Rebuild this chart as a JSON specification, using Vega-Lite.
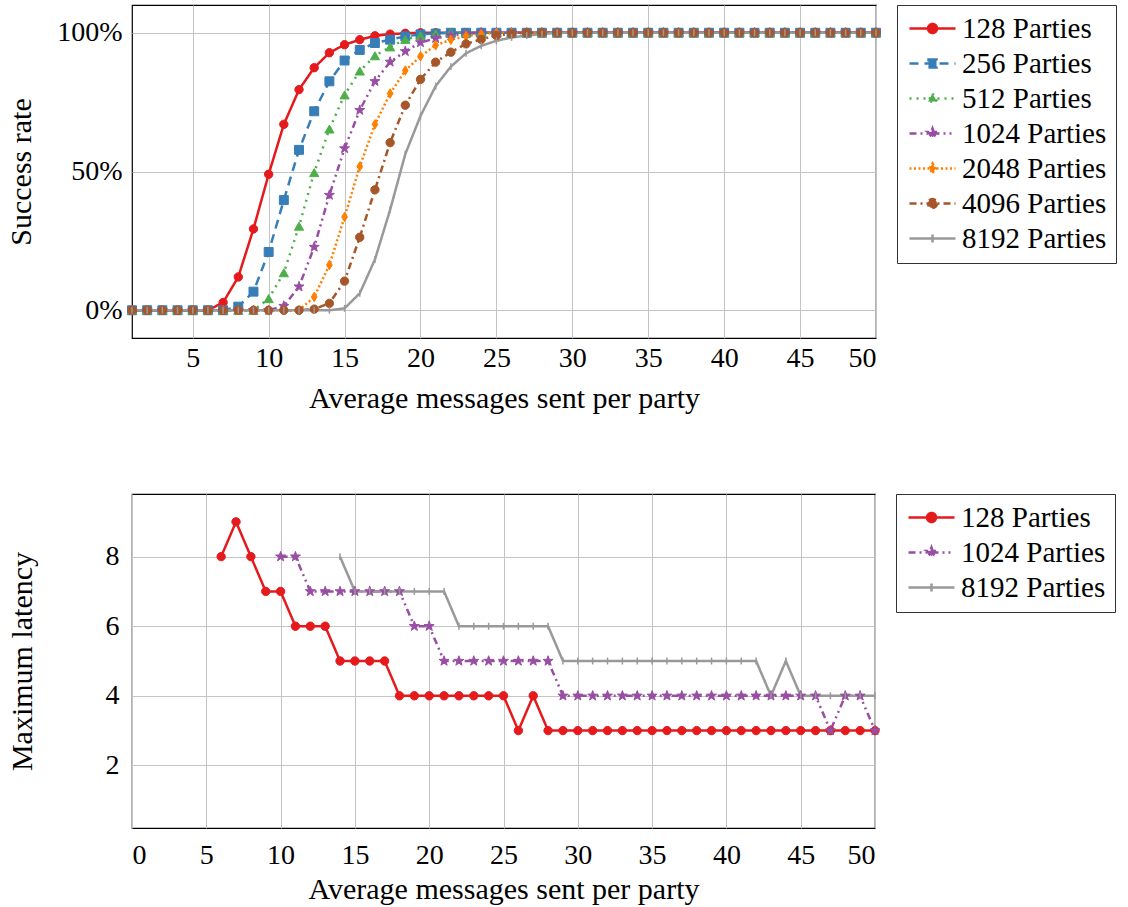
{"$schema":"https://vega.github.io/schema/vega-lite/v6.json","background":"white","padding":{"left":6,"top":3,"right":0,"bottom":0},
"config":{"view":{"stroke":"#000","strokeWidth":1.2},"axis":{"labelFont":"Liberation Serif","titleFont":"Liberation Serif","labelFontSize":28,"labelColor":"#000","titleFontSize":30,"titleFontWeight":"normal","titleColor":"#000","domain":false,"ticks":false,"grid":true,"gridColor":"#c4c4c4","gridWidth":1,"gridOpacity":1},
"legend":{"labelFont":"Liberation Serif","labelFontSize":29,"labelColor":"#000","labelBaseline":"middle","strokeColor":"#333","strokeWidth":1,"padding":9,"offset":16,"symbolSize":400,"symbolStrokeWidth":2.5,"symbolOffset":12,"labelOffset":15,"rowPadding":5,"cornerRadius":0,"title":null}},
"datasets":{"top":[
{"s":"128","x":1,"y":0},{"s":"128","x":2,"y":0},{"s":"128","x":3,"y":0},{"s":"128","x":4,"y":0},{"s":"128","x":5,"y":0},{"s":"128","x":6,"y":0},{"s":"128","x":7,"y":0.028},{"s":"128","x":8,"y":0.12},{"s":"128","x":9,"y":0.293},{"s":"128","x":10,"y":0.49},{"s":"128","x":11,"y":0.67},{"s":"128","x":12,"y":0.795},{"s":"128","x":13,"y":0.874},{"s":"128","x":14,"y":0.928},{"s":"128","x":15,"y":0.957},{"s":"128","x":16,"y":0.975},{"s":"128","x":17,"y":0.989},{"s":"128","x":18,"y":0.995},{"s":"128","x":19,"y":0.998},{"s":"128","x":20,"y":1},{"s":"128","x":21,"y":1},{"s":"128","x":22,"y":1},{"s":"128","x":23,"y":1},{"s":"128","x":24,"y":1},{"s":"128","x":25,"y":1},{"s":"128","x":26,"y":1},{"s":"128","x":27,"y":1},{"s":"128","x":28,"y":1},{"s":"128","x":29,"y":1},{"s":"128","x":30,"y":1},{"s":"128","x":31,"y":1},{"s":"128","x":32,"y":1},{"s":"128","x":33,"y":1},{"s":"128","x":34,"y":1},{"s":"128","x":35,"y":1},{"s":"128","x":36,"y":1},{"s":"128","x":37,"y":1},{"s":"128","x":38,"y":1},{"s":"128","x":39,"y":1},{"s":"128","x":40,"y":1},{"s":"128","x":41,"y":1},{"s":"128","x":42,"y":1},{"s":"128","x":43,"y":1},{"s":"128","x":44,"y":1},{"s":"128","x":45,"y":1},{"s":"128","x":46,"y":1},{"s":"128","x":47,"y":1},{"s":"128","x":48,"y":1},{"s":"128","x":49,"y":1},{"s":"128","x":50,"y":1},
{"s":"256","x":1,"y":0},{"s":"256","x":2,"y":0},{"s":"256","x":3,"y":0},{"s":"256","x":4,"y":0},{"s":"256","x":5,"y":0},{"s":"256","x":6,"y":0},{"s":"256","x":7,"y":0},{"s":"256","x":8,"y":0.013},{"s":"256","x":9,"y":0.067},{"s":"256","x":10,"y":0.21},{"s":"256","x":11,"y":0.397},{"s":"256","x":12,"y":0.578},{"s":"256","x":13,"y":0.717},{"s":"256","x":14,"y":0.825},{"s":"256","x":15,"y":0.9},{"s":"256","x":16,"y":0.938},{"s":"256","x":17,"y":0.963},{"s":"256","x":18,"y":0.975},{"s":"256","x":19,"y":0.987},{"s":"256","x":20,"y":0.994},{"s":"256","x":21,"y":0.997},{"s":"256","x":22,"y":1},{"s":"256","x":23,"y":1},{"s":"256","x":24,"y":1},{"s":"256","x":25,"y":1},{"s":"256","x":26,"y":1},{"s":"256","x":27,"y":1},{"s":"256","x":28,"y":1},{"s":"256","x":29,"y":1},{"s":"256","x":30,"y":1},{"s":"256","x":31,"y":1},{"s":"256","x":32,"y":1},{"s":"256","x":33,"y":1},{"s":"256","x":34,"y":1},{"s":"256","x":35,"y":1},{"s":"256","x":36,"y":1},{"s":"256","x":37,"y":1},{"s":"256","x":38,"y":1},{"s":"256","x":39,"y":1},{"s":"256","x":40,"y":1},{"s":"256","x":41,"y":1},{"s":"256","x":42,"y":1},{"s":"256","x":43,"y":1},{"s":"256","x":44,"y":1},{"s":"256","x":45,"y":1},{"s":"256","x":46,"y":1},{"s":"256","x":47,"y":1},{"s":"256","x":48,"y":1},{"s":"256","x":49,"y":1},{"s":"256","x":50,"y":1},
{"s":"512","x":1,"y":0},{"s":"512","x":2,"y":0},{"s":"512","x":3,"y":0},{"s":"512","x":4,"y":0},{"s":"512","x":5,"y":0},{"s":"512","x":6,"y":0},{"s":"512","x":7,"y":0},{"s":"512","x":8,"y":0},{"s":"512","x":9,"y":0},{"s":"512","x":10,"y":0.042},{"s":"512","x":11,"y":0.135},{"s":"512","x":12,"y":0.303},{"s":"512","x":13,"y":0.496},{"s":"512","x":14,"y":0.653},{"s":"512","x":15,"y":0.776},{"s":"512","x":16,"y":0.862},{"s":"512","x":17,"y":0.917},{"s":"512","x":18,"y":0.949},{"s":"512","x":19,"y":0.976},{"s":"512","x":20,"y":0.989},{"s":"512","x":21,"y":0.996},{"s":"512","x":22,"y":1},{"s":"512","x":23,"y":1},{"s":"512","x":24,"y":1},{"s":"512","x":25,"y":1},{"s":"512","x":26,"y":1},{"s":"512","x":27,"y":1},{"s":"512","x":28,"y":1},{"s":"512","x":29,"y":1},{"s":"512","x":30,"y":1},{"s":"512","x":31,"y":1},{"s":"512","x":32,"y":1},{"s":"512","x":33,"y":1},{"s":"512","x":34,"y":1},{"s":"512","x":35,"y":1},{"s":"512","x":36,"y":1},{"s":"512","x":37,"y":1},{"s":"512","x":38,"y":1},{"s":"512","x":39,"y":1},{"s":"512","x":40,"y":1},{"s":"512","x":41,"y":1},{"s":"512","x":42,"y":1},{"s":"512","x":43,"y":1},{"s":"512","x":44,"y":1},{"s":"512","x":45,"y":1},{"s":"512","x":46,"y":1},{"s":"512","x":47,"y":1},{"s":"512","x":48,"y":1},{"s":"512","x":49,"y":1},{"s":"512","x":50,"y":1},
{"s":"1024","x":1,"y":0},{"s":"1024","x":2,"y":0},{"s":"1024","x":3,"y":0},{"s":"1024","x":4,"y":0},{"s":"1024","x":5,"y":0},{"s":"1024","x":6,"y":0},{"s":"1024","x":7,"y":0},{"s":"1024","x":8,"y":0},{"s":"1024","x":9,"y":0},{"s":"1024","x":10,"y":0},{"s":"1024","x":11,"y":0.015},{"s":"1024","x":12,"y":0.085},{"s":"1024","x":13,"y":0.228},{"s":"1024","x":14,"y":0.415},{"s":"1024","x":15,"y":0.583},{"s":"1024","x":16,"y":0.721},{"s":"1024","x":17,"y":0.825},{"s":"1024","x":18,"y":0.895},{"s":"1024","x":19,"y":0.933},{"s":"1024","x":20,"y":0.965},{"s":"1024","x":21,"y":0.98},{"s":"1024","x":22,"y":0.99},{"s":"1024","x":23,"y":0.996},{"s":"1024","x":24,"y":1},{"s":"1024","x":25,"y":1},{"s":"1024","x":26,"y":1},{"s":"1024","x":27,"y":1},{"s":"1024","x":28,"y":1},{"s":"1024","x":29,"y":1},{"s":"1024","x":30,"y":1},{"s":"1024","x":31,"y":1},{"s":"1024","x":32,"y":1},{"s":"1024","x":33,"y":1},{"s":"1024","x":34,"y":1},{"s":"1024","x":35,"y":1},{"s":"1024","x":36,"y":1},{"s":"1024","x":37,"y":1},{"s":"1024","x":38,"y":1},{"s":"1024","x":39,"y":1},{"s":"1024","x":40,"y":1},{"s":"1024","x":41,"y":1},{"s":"1024","x":42,"y":1},{"s":"1024","x":43,"y":1},{"s":"1024","x":44,"y":1},{"s":"1024","x":45,"y":1},{"s":"1024","x":46,"y":1},{"s":"1024","x":47,"y":1},{"s":"1024","x":48,"y":1},{"s":"1024","x":49,"y":1},{"s":"1024","x":50,"y":1},
{"s":"2048","x":1,"y":0},{"s":"2048","x":2,"y":0},{"s":"2048","x":3,"y":0},{"s":"2048","x":4,"y":0},{"s":"2048","x":5,"y":0},{"s":"2048","x":6,"y":0},{"s":"2048","x":7,"y":0},{"s":"2048","x":8,"y":0},{"s":"2048","x":9,"y":0},{"s":"2048","x":10,"y":0},{"s":"2048","x":11,"y":0},{"s":"2048","x":12,"y":0},{"s":"2048","x":13,"y":0.048},{"s":"2048","x":14,"y":0.163},{"s":"2048","x":15,"y":0.336},{"s":"2048","x":16,"y":0.518},{"s":"2048","x":17,"y":0.67},{"s":"2048","x":18,"y":0.781},{"s":"2048","x":19,"y":0.864},{"s":"2048","x":20,"y":0.915},{"s":"2048","x":21,"y":0.955},{"s":"2048","x":22,"y":0.975},{"s":"2048","x":23,"y":0.988},{"s":"2048","x":24,"y":0.995},{"s":"2048","x":25,"y":1},{"s":"2048","x":26,"y":1},{"s":"2048","x":27,"y":1},{"s":"2048","x":28,"y":1},{"s":"2048","x":29,"y":1},{"s":"2048","x":30,"y":1},{"s":"2048","x":31,"y":1},{"s":"2048","x":32,"y":1},{"s":"2048","x":33,"y":1},{"s":"2048","x":34,"y":1},{"s":"2048","x":35,"y":1},{"s":"2048","x":36,"y":1},{"s":"2048","x":37,"y":1},{"s":"2048","x":38,"y":1},{"s":"2048","x":39,"y":1},{"s":"2048","x":40,"y":1},{"s":"2048","x":41,"y":1},{"s":"2048","x":42,"y":1},{"s":"2048","x":43,"y":1},{"s":"2048","x":44,"y":1},{"s":"2048","x":45,"y":1},{"s":"2048","x":46,"y":1},{"s":"2048","x":47,"y":1},{"s":"2048","x":48,"y":1},{"s":"2048","x":49,"y":1},{"s":"2048","x":50,"y":1},
{"s":"4096","x":1,"y":0},{"s":"4096","x":2,"y":0},{"s":"4096","x":3,"y":0},{"s":"4096","x":4,"y":0},{"s":"4096","x":5,"y":0},{"s":"4096","x":6,"y":0},{"s":"4096","x":7,"y":0},{"s":"4096","x":8,"y":0},{"s":"4096","x":9,"y":0},{"s":"4096","x":10,"y":0},{"s":"4096","x":11,"y":0},{"s":"4096","x":12,"y":0},{"s":"4096","x":13,"y":0.004},{"s":"4096","x":14,"y":0.025},{"s":"4096","x":15,"y":0.105},{"s":"4096","x":16,"y":0.263},{"s":"4096","x":17,"y":0.434},{"s":"4096","x":18,"y":0.604},{"s":"4096","x":19,"y":0.739},{"s":"4096","x":20,"y":0.832},{"s":"4096","x":21,"y":0.894},{"s":"4096","x":22,"y":0.93},{"s":"4096","x":23,"y":0.96},{"s":"4096","x":24,"y":0.976},{"s":"4096","x":25,"y":0.99},{"s":"4096","x":26,"y":0.996},{"s":"4096","x":27,"y":1},{"s":"4096","x":28,"y":1},{"s":"4096","x":29,"y":1},{"s":"4096","x":30,"y":1},{"s":"4096","x":31,"y":1},{"s":"4096","x":32,"y":1},{"s":"4096","x":33,"y":1},{"s":"4096","x":34,"y":1},{"s":"4096","x":35,"y":1},{"s":"4096","x":36,"y":1},{"s":"4096","x":37,"y":1},{"s":"4096","x":38,"y":1},{"s":"4096","x":39,"y":1},{"s":"4096","x":40,"y":1},{"s":"4096","x":41,"y":1},{"s":"4096","x":42,"y":1},{"s":"4096","x":43,"y":1},{"s":"4096","x":44,"y":1},{"s":"4096","x":45,"y":1},{"s":"4096","x":46,"y":1},{"s":"4096","x":47,"y":1},{"s":"4096","x":48,"y":1},{"s":"4096","x":49,"y":1},{"s":"4096","x":50,"y":1},
{"s":"8192","x":1,"y":0},{"s":"8192","x":2,"y":0},{"s":"8192","x":3,"y":0},{"s":"8192","x":4,"y":0},{"s":"8192","x":5,"y":0},{"s":"8192","x":6,"y":0},{"s":"8192","x":7,"y":0},{"s":"8192","x":8,"y":0},{"s":"8192","x":9,"y":0},{"s":"8192","x":10,"y":0},{"s":"8192","x":11,"y":0},{"s":"8192","x":12,"y":0},{"s":"8192","x":13,"y":0},{"s":"8192","x":14,"y":0},{"s":"8192","x":15,"y":0.007},{"s":"8192","x":16,"y":0.061},{"s":"8192","x":17,"y":0.183},{"s":"8192","x":18,"y":0.362},{"s":"8192","x":19,"y":0.563},{"s":"8192","x":20,"y":0.7},{"s":"8192","x":21,"y":0.808},{"s":"8192","x":22,"y":0.878},{"s":"8192","x":23,"y":0.926},{"s":"8192","x":24,"y":0.953},{"s":"8192","x":25,"y":0.971},{"s":"8192","x":26,"y":0.983},{"s":"8192","x":27,"y":0.99},{"s":"8192","x":28,"y":0.995},{"s":"8192","x":29,"y":1},{"s":"8192","x":30,"y":1},{"s":"8192","x":31,"y":1},{"s":"8192","x":32,"y":1},{"s":"8192","x":33,"y":1},{"s":"8192","x":34,"y":1},{"s":"8192","x":35,"y":1},{"s":"8192","x":36,"y":1},{"s":"8192","x":37,"y":1},{"s":"8192","x":38,"y":1},{"s":"8192","x":39,"y":1},{"s":"8192","x":40,"y":1},{"s":"8192","x":41,"y":1},{"s":"8192","x":42,"y":1},{"s":"8192","x":43,"y":1},{"s":"8192","x":44,"y":1},{"s":"8192","x":45,"y":1},{"s":"8192","x":46,"y":1},{"s":"8192","x":47,"y":1},{"s":"8192","x":48,"y":1},{"s":"8192","x":49,"y":1},{"s":"8192","x":50,"y":1}],
"bottom":[
{"s":"128","x":6,"y":8},{"s":"128","x":7,"y":9},{"s":"128","x":8,"y":8},{"s":"128","x":9,"y":7},{"s":"128","x":10,"y":7},{"s":"128","x":11,"y":6},{"s":"128","x":12,"y":6},{"s":"128","x":13,"y":6},{"s":"128","x":14,"y":5},{"s":"128","x":15,"y":5},{"s":"128","x":16,"y":5},{"s":"128","x":17,"y":5},{"s":"128","x":18,"y":4},{"s":"128","x":19,"y":4},{"s":"128","x":20,"y":4},{"s":"128","x":21,"y":4},{"s":"128","x":22,"y":4},{"s":"128","x":23,"y":4},{"s":"128","x":24,"y":4},{"s":"128","x":25,"y":4},{"s":"128","x":26,"y":3},{"s":"128","x":27,"y":4},{"s":"128","x":28,"y":3},{"s":"128","x":29,"y":3},{"s":"128","x":30,"y":3},{"s":"128","x":31,"y":3},{"s":"128","x":32,"y":3},{"s":"128","x":33,"y":3},{"s":"128","x":34,"y":3},{"s":"128","x":35,"y":3},{"s":"128","x":36,"y":3},{"s":"128","x":37,"y":3},{"s":"128","x":38,"y":3},{"s":"128","x":39,"y":3},{"s":"128","x":40,"y":3},{"s":"128","x":41,"y":3},{"s":"128","x":42,"y":3},{"s":"128","x":43,"y":3},{"s":"128","x":44,"y":3},{"s":"128","x":45,"y":3},{"s":"128","x":46,"y":3},{"s":"128","x":47,"y":3},{"s":"128","x":48,"y":3},{"s":"128","x":49,"y":3},{"s":"128","x":50,"y":3},
{"s":"1024","x":10,"y":8},{"s":"1024","x":11,"y":8},{"s":"1024","x":12,"y":7},{"s":"1024","x":13,"y":7},{"s":"1024","x":14,"y":7},{"s":"1024","x":15,"y":7},{"s":"1024","x":16,"y":7},{"s":"1024","x":17,"y":7},{"s":"1024","x":18,"y":7},{"s":"1024","x":19,"y":6},{"s":"1024","x":20,"y":6},{"s":"1024","x":21,"y":5},{"s":"1024","x":22,"y":5},{"s":"1024","x":23,"y":5},{"s":"1024","x":24,"y":5},{"s":"1024","x":25,"y":5},{"s":"1024","x":26,"y":5},{"s":"1024","x":27,"y":5},{"s":"1024","x":28,"y":5},{"s":"1024","x":29,"y":4},{"s":"1024","x":30,"y":4},{"s":"1024","x":31,"y":4},{"s":"1024","x":32,"y":4},{"s":"1024","x":33,"y":4},{"s":"1024","x":34,"y":4},{"s":"1024","x":35,"y":4},{"s":"1024","x":36,"y":4},{"s":"1024","x":37,"y":4},{"s":"1024","x":38,"y":4},{"s":"1024","x":39,"y":4},{"s":"1024","x":40,"y":4},{"s":"1024","x":41,"y":4},{"s":"1024","x":42,"y":4},{"s":"1024","x":43,"y":4},{"s":"1024","x":44,"y":4},{"s":"1024","x":45,"y":4},{"s":"1024","x":46,"y":4},{"s":"1024","x":47,"y":3},{"s":"1024","x":48,"y":4},{"s":"1024","x":49,"y":4},{"s":"1024","x":50,"y":3},
{"s":"8192","x":14,"y":8},{"s":"8192","x":15,"y":7},{"s":"8192","x":16,"y":7},{"s":"8192","x":17,"y":7},{"s":"8192","x":18,"y":7},{"s":"8192","x":19,"y":7},{"s":"8192","x":20,"y":7},{"s":"8192","x":21,"y":7},{"s":"8192","x":22,"y":6},{"s":"8192","x":23,"y":6},{"s":"8192","x":24,"y":6},{"s":"8192","x":25,"y":6},{"s":"8192","x":26,"y":6},{"s":"8192","x":27,"y":6},{"s":"8192","x":28,"y":6},{"s":"8192","x":29,"y":5},{"s":"8192","x":30,"y":5},{"s":"8192","x":31,"y":5},{"s":"8192","x":32,"y":5},{"s":"8192","x":33,"y":5},{"s":"8192","x":34,"y":5},{"s":"8192","x":35,"y":5},{"s":"8192","x":36,"y":5},{"s":"8192","x":37,"y":5},{"s":"8192","x":38,"y":5},{"s":"8192","x":39,"y":5},{"s":"8192","x":40,"y":5},{"s":"8192","x":41,"y":5},{"s":"8192","x":42,"y":5},{"s":"8192","x":43,"y":4},{"s":"8192","x":44,"y":5},{"s":"8192","x":45,"y":4},{"s":"8192","x":46,"y":4},{"s":"8192","x":47,"y":4},{"s":"8192","x":48,"y":4},{"s":"8192","x":49,"y":4},{"s":"8192","x":50,"y":4}]},
"align":"none","spacing":78,
"resolve":{"scale":{"color":"independent","strokeDash":"independent","fill":"independent","stroke":"independent","shape":"independent"}},
"vconcat":[
{"width":744,"height":333,"data":{"name":"top"},
"encoding":{"x":{"field":"x","type":"quantitative","scale":{"domain":[1,50],"nice":false,"zero":false},"axis":{"values":[5,10,15,20,25,30,35,40,45,50],"title":"Average messages sent per party","labelPadding":6,"titlePadding":11}},
"y":{"field":"y","type":"quantitative","scale":{"domain":[-0.1,1.1],"nice":false},"axis":{"values":[0,0.5,1],"format":".0%","title":"Success rate","labelPadding":10,"titlePadding":20}}},
"layer":[
{"mark":{"type":"line","strokeWidth":2.5},"encoding":{
"color":{"field":"s","type":"nominal","scale":{"domain":["128","256","512","1024","2048","4096","8192"],"range":["#e41a1c","#377eb8","#4daf4a","#984ea3","#ff7f00","#a65628","#999999"]},"legend":{"title":null,"labelExpr":"datum.label + ' Parties'"}},
"strokeDash":{"field":"s","type":"nominal","scale":{"domain":["128","256","512","1024","2048","4096","8192"],"range":[[1,0],[9,6],[2,5],[7,4,2,4,2,4],[2,2.5],[7,4,2,4],[1,0]]},"legend":{"title":null,"labelExpr":"datum.label + ' Parties'"}},
"shape":{"field":"s","type":"nominal","scale":{"domain":["128","256","512","1024","2048","4096","8192"],"range":["M-2.3,0H2.3M0.45,0A0.45,0.45,0,1,1,-0.45,0A0.45,0.45,0,1,1,0.45,0Z","M-2.3,0H2.3M-0.4,-0.4H0.4V0.4H-0.4Z","M-2.3,0H2.3M0,-0.5L0.45,0.3H-0.45Z","M-2.3,0H2.3M0,-0.5L0.118,-0.162L0.476,-0.155L0.19,0.062L0.294,0.405L0,0.2L-0.294,0.405L-0.19,0.062L-0.476,-0.155L-0.118,-0.162Z","M-2.3,0H2.3M0,-0.5L0.3,0L0,0.5L-0.3,0Z","M-2.3,0H2.3M0.45,0A0.45,0.45,0,1,1,-0.45,0A0.45,0.45,0,1,1,0.45,0Z","M-2.3,0H2.3M0,-0.4V0.4"]},"legend":{"title":null,"labelExpr":"datum.label + ' Parties'"}}}},
{"transform":[{"filter":"datum.s==='128'"}],"mark":{"type":"point","filled":true,"size":70,"strokeWidth":1,"opacity":1,"shape":"circle"},"encoding":{
"fill":{"field":"s","type":"nominal","scale":{"domain":["128","256","512","1024","2048","4096","8192"],"range":["#e41a1c","#377eb8","#4daf4a","#984ea3","#ff7f00","#a65628","#999999"]},"legend":{"title":null,"labelExpr":"datum.label + ' Parties'"}},
"stroke":{"field":"s","type":"nominal","scale":{"domain":["128","256","512","1024","2048","4096","8192"],"range":["#e41a1c","#377eb8","#4daf4a","#984ea3","#ff7f00","#a65628","#999999"]},"legend":{"title":null,"labelExpr":"datum.label + ' Parties'"}}}},
{"transform":[{"filter":"datum.s==='256'"}],"mark":{"type":"point","filled":true,"size":80,"strokeWidth":1,"opacity":1,"shape":"square"},"encoding":{"fill":{"field":"s","type":"nominal"},"stroke":{"field":"s","type":"nominal"}}},
{"transform":[{"filter":"datum.s==='512'"}],"mark":{"type":"point","filled":true,"size":85,"strokeWidth":1,"opacity":1,"shape":"triangle-up"},"encoding":{"fill":{"field":"s","type":"nominal"},"stroke":{"field":"s","type":"nominal"}}},
{"transform":[{"filter":"datum.s==='1024'"}],"mark":{"type":"point","filled":true,"size":110,"strokeWidth":1,"opacity":1,"shape":"M0,-1L0.235,-0.324L0.951,-0.309L0.38,0.124L0.588,0.809L0,0.4L-0.588,0.809L-0.38,0.124L-0.951,-0.309L-0.235,-0.324Z"},"encoding":{"fill":{"field":"s","type":"nominal"},"stroke":{"field":"s","type":"nominal"}}},
{"transform":[{"filter":"datum.s==='2048'"}],"mark":{"type":"point","filled":true,"size":90,"strokeWidth":1,"opacity":1,"shape":"M0,-1L0.6,0L0,1L-0.6,0Z"},"encoding":{"fill":{"field":"s","type":"nominal"},"stroke":{"field":"s","type":"nominal"}}},
{"transform":[{"filter":"datum.s==='4096'"}],"mark":{"type":"point","filled":true,"size":70,"strokeWidth":1,"opacity":1,"shape":"circle"},"encoding":{"fill":{"field":"s","type":"nominal"},"stroke":{"field":"s","type":"nominal"}}},
{"transform":[{"filter":"datum.s==='8192'"}],"mark":{"type":"point","filled":true,"size":75,"strokeWidth":1.5,"opacity":1,"shape":"M0,-0.8V0.8"},"encoding":{"fill":{"field":"s","type":"nominal"},"stroke":{"field":"s","type":"nominal"}}}
]},
{"width":743,"height":334,"data":{"name":"bottom"},
"encoding":{"x":{"field":"x","type":"quantitative","scale":{"domain":[0,50],"nice":false},"axis":{"values":[0,5,10,15,20,25,30,35,40,45,50],"title":"Average messages sent per party","labelPadding":13,"titlePadding":5}},
"y":{"field":"y","type":"quantitative","scale":{"domain":[0.2,9.8],"nice":false,"zero":false},"axis":{"values":[2,4,6,8],"title":"Maximum latency","labelPadding":13,"titlePadding":68}}},
"layer":[
{"mark":{"type":"line","strokeWidth":2.5},"encoding":{
"color":{"field":"s","type":"nominal","scale":{"domain":["128","1024","8192"],"range":["#e41a1c","#984ea3","#999999"]},"legend":{"title":null,"labelExpr":"datum.label + ' Parties'"}},
"strokeDash":{"field":"s","type":"nominal","scale":{"domain":["128","1024","8192"],"range":[[1,0],[7,4,2,4,2,4],[1,0]]},"legend":{"title":null,"labelExpr":"datum.label + ' Parties'"}},
"shape":{"field":"s","type":"nominal","scale":{"domain":["128","1024","8192"],"range":["M-2.3,0H2.3M0.45,0A0.45,0.45,0,1,1,-0.45,0A0.45,0.45,0,1,1,0.45,0Z","M-2.3,0H2.3M0,-0.5L0.118,-0.162L0.476,-0.155L0.19,0.062L0.294,0.405L0,0.2L-0.294,0.405L-0.19,0.062L-0.476,-0.155L-0.118,-0.162Z","M-2.3,0H2.3M0,-0.4V0.4"]},"legend":{"title":null,"labelExpr":"datum.label + ' Parties'"}}}},
{"transform":[{"filter":"datum.s==='128'"}],"mark":{"type":"point","filled":true,"size":70,"strokeWidth":1,"opacity":1,"shape":"circle"},"encoding":{
"fill":{"field":"s","type":"nominal","scale":{"domain":["128","1024","8192"],"range":["#e41a1c","#984ea3","#999999"]},"legend":{"title":null,"labelExpr":"datum.label + ' Parties'"}},
"stroke":{"field":"s","type":"nominal","scale":{"domain":["128","1024","8192"],"range":["#e41a1c","#984ea3","#999999"]},"legend":{"title":null,"labelExpr":"datum.label + ' Parties'"}}}},
{"transform":[{"filter":"datum.s==='1024'"}],"mark":{"type":"point","filled":true,"size":110,"strokeWidth":1,"opacity":1,"shape":"M0,-1L0.235,-0.324L0.951,-0.309L0.38,0.124L0.588,0.809L0,0.4L-0.588,0.809L-0.38,0.124L-0.951,-0.309L-0.235,-0.324Z"},"encoding":{"fill":{"field":"s","type":"nominal"},"stroke":{"field":"s","type":"nominal"}}},
{"transform":[{"filter":"datum.s==='8192'"}],"mark":{"type":"point","filled":true,"size":75,"strokeWidth":1.5,"opacity":1,"shape":"M0,-0.8V0.8"},"encoding":{"fill":{"field":"s","type":"nominal"},"stroke":{"field":"s","type":"nominal"}}}
]}
]}
